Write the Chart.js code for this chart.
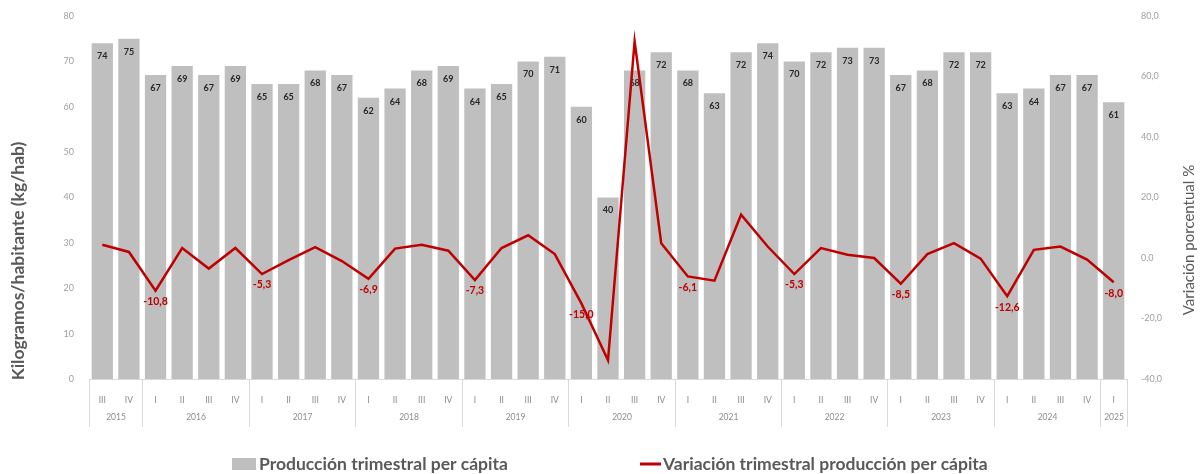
<!DOCTYPE html>
<html>
<head>
<meta charset="utf-8">
<script src="https://cdn.jsdelivr.net/npm/chart.js@4.4.1/dist/chart.umd.min.js"></script>
<style>
html,body{margin:0;padding:0;background:#fff;}
#wrap{width:1202px;height:474px;position:relative;}
</style>
</head>
<body>
<div id="wrap"><canvas id="c"></canvas></div>
<script>
const quarters = ['III','IV','I','II','III','IV','I','II','III','IV','I','II','III','IV','I','II','III','IV','I','II','III','IV','I','II','III','IV','I','II','III','IV','I','II','III','IV','I','II','III','IV','I'];
const years = ['2015','2015','2016','2016','2016','2016','2017','2017','2017','2017','2018','2018','2018','2018','2019','2019','2019','2019','2020','2020','2020','2020','2021','2021','2021','2021','2022','2022','2022','2022','2023','2023','2023','2023','2024','2024','2024','2024','2025'];
const production = [74,75,67,69,67,69,65,65,68,67,62,64,68,69,64,65,70,71,60,40,68,72,68,63,72,74,70,72,73,73,67,68,72,72,63,64,67,67,61];
const variation = [4.4,2.0,-10.8,3.3,-3.5,3.3,-5.3,-0.7,3.6,-1.0,-6.9,3.1,4.4,2.4,-7.3,3.3,7.5,1.3,-15.0,-33.8,71.6,4.9,-6.1,-7.5,14.3,3.8,-5.3,3.3,1.1,0.0,-8.5,1.3,4.9,-0.2,-12.6,2.7,3.8,-0.5,-8.0];
const labeledIdx = [2,6,10,14,18,22,26,30,34,38];
const leftTicks = [0,10,20,30,40,50,60,70,80];
const rightTicks = [-40,-20,0,20,40,60,80];
const seriesNames = ['Producción trimestral per cápita','Variación trimestral producción per cápita'];
const axisTitles = ['Kilogramos/habitante (kg/hab)','Variación porcentual %'];

const FONT = 'Lato, "Open Sans", "Liberation Sans", sans-serif';
const GRAY_BAR = '#bfbfbf';
const RED = '#c00000';

const fmt = v => v.toFixed(1).replace('.', ',');

const extras = {
  id: 'extras',
  afterDatasetDraw(chart, args) {
    const ctx = chart.ctx;
    if (args.index === 0) {
      const meta = chart.getDatasetMeta(0);
      ctx.save();
      ctx.font = 'bold 9px ' + FONT;
      ctx.fillStyle = '#262626';
      ctx.textAlign = 'center';
      ctx.textBaseline = 'middle';
      meta.data.forEach((el, i) => {
        ctx.fillText(String(production[i]), el.x, el.y + 13);
      });
      ctx.restore();
    }
    if (args.index === 1) {
      const meta = chart.getDatasetMeta(1);
      ctx.save();
      ctx.font = 'bold 10.5px ' + FONT;
      ctx.fillStyle = RED;
      ctx.textAlign = 'center';
      ctx.textBaseline = 'middle';
      labeledIdx.forEach(i => {
        const el = meta.data[i];
        ctx.fillText(fmt(variation[i]), el.x, el.y + 11);
      });
      ctx.restore();
    }
  },
  afterDraw(chart) {
    const ctx = chart.ctx;
    const xs = chart.scales.x;
    const area = chart.chartArea;
    const half = (xs.getPixelForValue(1) - xs.getPixelForValue(0)) / 2;
    ctx.save();
    ctx.strokeStyle = '#d9d9d9';
    ctx.lineWidth = 1;
    let start = 0;
    const bounds = [];
    for (let i = 0; i <= years.length; i++) {
      if (i === years.length || years[i] !== years[start]) {
        bounds.push([start, i - 1]);
        start = i;
      }
    }
    ctx.font = '8.5px ' + FONT;
    ctx.fillStyle = '#8c8c8c';
    ctx.textAlign = 'center';
    ctx.textBaseline = 'middle';
    bounds.forEach(([a, b], k) => {
      const x0 = Math.round(xs.getPixelForValue(a) - half) + 0.5;
      const x1 = Math.round(xs.getPixelForValue(b) + half) + 0.5;
      ctx.beginPath();
      ctx.moveTo(x0, area.bottom); ctx.lineTo(x0, area.bottom + 48);
      if (k === bounds.length - 1) { ctx.moveTo(x1, area.bottom); ctx.lineTo(x1, area.bottom + 48); }
      ctx.stroke();
      ctx.fillText(years[a], (x0 + x1) / 2, area.bottom + 38);
    });
    // axis titles
    ctx.fillStyle = '#595959';
    ctx.font = 'bold 17.5px ' + FONT;
    ctx.save();
    ctx.translate(18, 261);
    ctx.rotate(-Math.PI / 2);
    ctx.fillText(axisTitles[0], 0, 0);
    ctx.restore();
    ctx.font = '15px ' + FONT;
    ctx.save();
    ctx.translate(1189, 240);
    ctx.rotate(-Math.PI / 2);
    ctx.fillText(axisTitles[1], 0, 0);
    ctx.restore();
    // legend
    const ly = 464;
    ctx.font = 'bold 17.5px ' + FONT;
    ctx.textAlign = 'left';
    ctx.fillStyle = GRAY_BAR;
    ctx.fillRect(232, ly - 6, 24, 12);
    ctx.fillStyle = '#595959';
    ctx.fillText(seriesNames[0], 259, ly);
    ctx.strokeStyle = RED;
    ctx.lineWidth = 3;
    ctx.beginPath(); ctx.moveTo(640, ly); ctx.lineTo(661, ly); ctx.stroke();
    ctx.fillStyle = '#595959';
    ctx.fillText(seriesNames[1], 663, ly);
    ctx.restore();
  }
};

new Chart(document.getElementById('c'), {
  data: {
    labels: quarters,
    datasets: [
      {
        type: 'bar',
        label: seriesNames[0],
        data: production,
        backgroundColor: GRAY_BAR,
        borderWidth: 0,
        barPercentage: 0.8,
        categoryPercentage: 1.0,
        yAxisID: 'y',
        order: 1
      },
      {
        type: 'line',
        label: seriesNames[1],
        data: variation,
        borderColor: RED,
        backgroundColor: RED,
        borderWidth: 2.5,
        pointRadius: 0,
        tension: 0,
        yAxisID: 'y1',
        order: 0
      }
    ]
  },
  options: {
    responsive: true,
    maintainAspectRatio: false,
    animation: false,
    layout: { padding: { top: 16, bottom: 45, left: 0, right: 0 } },
    plugins: { legend: { display: false }, tooltip: { enabled: false } },
    scales: {
      x: {
        grid: { display: false },
        border: { display: true, color: '#d9d9d9' },
        ticks: { font: { family: FONT, size: 8.5 }, color: '#8c8c8c', padding: 8, maxRotation: 0, autoSkip: false },
        afterFit(s) { s.height = 50; }
      },
      y: {
        position: 'left',
        min: 0, max: 80,
        afterBuildTicks(s) { s.ticks = leftTicks.map(v => ({ value: v })); },
        grid: { display: false },
        border: { display: false },
        ticks: { font: { family: FONT, size: 9 }, color: '#a0a0a0', padding: 7 },
        afterFit(s) { s.width = 89; }
      },
      y1: {
        position: 'right',
        min: -40, max: 80,
        afterBuildTicks(s) { s.ticks = rightTicks.map(v => ({ value: v })); },
        grid: { display: false },
        border: { display: false },
        ticks: { font: { family: FONT, size: 9 }, color: '#a0a0a0', padding: 6, callback: v => fmt(v) },
        afterFit(s) { s.width = 75; }
      }
    }
  },
  plugins: [extras]
});
</script>
</body>
</html>
